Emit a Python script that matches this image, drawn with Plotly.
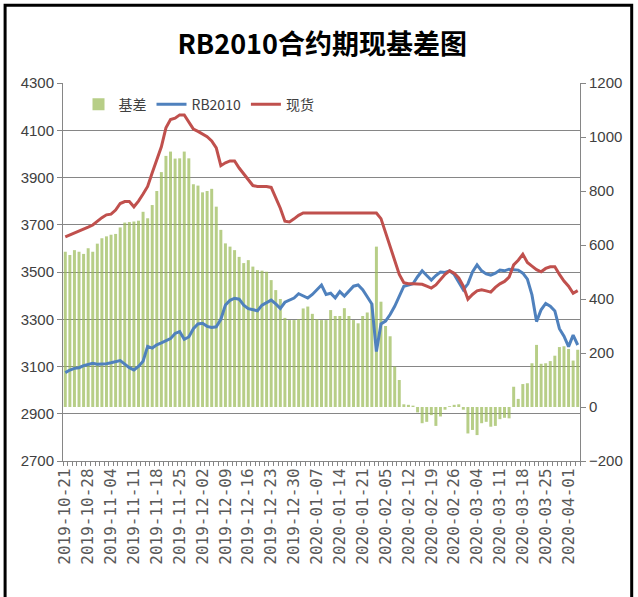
import plotly.graph_objects as go

# ---- categories: trading days (month -> days) ----
trading_days = {
    "2019-10": [21, 22, 23, 24, 25, 28, 29, 30, 31],
    "2019-11": [1, 4, 5, 6, 7, 8, 11, 12, 13, 14, 15, 18, 19, 20, 21, 22, 25, 26, 27, 28, 29],
    "2019-12": [2, 3, 4, 5, 6, 9, 10, 11, 12, 13, 16, 17, 18, 19, 20, 23, 24, 25, 26, 27, 30, 31],
    "2020-01": [2, 3, 6, 7, 8, 9, 10, 13, 14, 15, 16, 17, 20, 21, 22, 23],
    "2020-02": [3, 4, 5, 6, 7, 10, 11, 12, 13, 14, 17, 18, 19, 20, 21, 24, 25, 26, 27, 28],
    "2020-03": [2, 3, 4, 5, 6, 9, 10, 11, 12, 13, 16, 17, 18, 19, 20, 23, 24, 25, 26, 27, 30, 31],
    "2020-04": [1, 2, 3],
}
dates = [f"{m}-{d:02d}" for m, days in trading_days.items() for d in days]

# ---- series ----
spot = [  # 现货
    3649, 3657, 3666, 3671, 3680, 3690, 3699, 3715, 3730, 3742,
    3745, 3762, 3790, 3798, 3798, 3776, 3800, 3830, 3862, 3920,
    3975, 4030, 4110, 4145, 4151, 4165, 4165, 4135, 4105, 4095,
    4085, 4073, 4055, 4025, 3950, 3962, 3970, 3970, 3940, 3915,
    3890, 3866, 3862, 3862, 3862, 3858, 3815, 3770, 3715, 3712,
    3725, 3740, 3750, 3750, 3750, 3750, 3750, 3750, 3750, 3750,
    3750, 3750, 3750, 3750, 3750, 3750, 3750, 3750, 3750, 3726,
    3666, 3606, 3546, 3490, 3455, 3450, 3450, 3450, 3448, 3440,
    3432, 3445, 3470, 3490, 3505, 3495, 3475, 3440, 3385, 3405,
    3420, 3425, 3420, 3415, 3435, 3450, 3460, 3478, 3530, 3550,
    3575, 3540, 3525, 3510, 3501, 3515, 3522, 3522, 3490, 3462,
    3440, 3410, 3421,
]
futures = [  # RB2010
    3074, 3085, 3092, 3095, 3104, 3108, 3114, 3110, 3110, 3112,
    3116, 3120, 3125, 3110, 3095, 3085, 3100, 3122, 3185, 3178,
    3192, 3200, 3210, 3218, 3240, 3248, 3215, 3225, 3260, 3280,
    3283, 3270, 3265, 3268, 3300, 3360, 3380, 3389, 3385, 3360,
    3345, 3340, 3336, 3360, 3372, 3381, 3365, 3346, 3372, 3380,
    3390, 3408, 3400, 3390, 3405, 3425, 3445, 3405, 3410, 3390,
    3417, 3398, 3420, 3440, 3445, 3425, 3395, 3365, 3163, 3280,
    3292, 3320, 3355, 3400, 3440, 3445, 3450, 3480, 3505, 3485,
    3466, 3485, 3500, 3498, 3505, 3490, 3460, 3425, 3450, 3500,
    3530, 3505, 3492, 3487, 3495, 3508, 3505, 3512, 3510, 3508,
    3495, 3470, 3403, 3290, 3340, 3367, 3355, 3335, 3260, 3228,
    3184, 3233, 3191,
]
basis = [  # 基差
    575, 563, 581, 575, 567, 588, 575, 605, 625, 632,
    638, 641, 665, 683, 685, 687, 690, 723, 699, 748,
    800, 870, 930, 946, 920, 921, 946, 921, 825, 820,
    795, 800, 808, 742, 656, 606, 594, 581, 556, 533,
    544, 520, 507, 505, 501, 470, 433, 400, 330, 322,
    322, 325, 365, 372, 345, 325, 322, 322, 359, 337,
    337, 366, 337, 322, 310, 337, 350, 384, 594, 390,
    300, 262, 150, 100, 10, 8, 5, -20, -60, -55,
    -30, -70, -35, -10, 3, 8, 10, -10, -98, -85,
    -104, -60, -55, -73, -70, -45, -40, -42, 75, 30,
    85, 88, 162, 230, 160, 162, 170, 190, 222, 225,
    215, 172, 212,
]

left_ticks = [2700, 2900, 3100, 3300, 3500, 3700, 3900, 4100, 4300]
right_ticks = [-200, 0, 200, 400, 600, 800, 1000, 1200]
tick_labels = [d if i % 5 == 0 else "" for i, d in enumerate(dates)]

AXIS_GRAY = "#868686"

fig = go.Figure()
fig.add_trace(go.Bar(
    x=dates, y=basis, name="基差", yaxis="y",
    marker=dict(color="rgba(155,187,89,0.72)", line=dict(width=0)),
))
fig.add_trace(go.Scatter(
    x=dates, y=futures, name="RB2010", yaxis="y2", mode="lines",
    line=dict(color="#4F81BD", width=3),
))
fig.add_trace(go.Scatter(
    x=dates, y=spot, name="现货", yaxis="y2", mode="lines",
    line=dict(color="#C0504D", width=3),
))

fig.update_layout(
    width=638, height=597,
    margin=dict(l=63, r=58, t=83, b=136),
    paper_bgcolor="white", plot_bgcolor="white",
    bargap=0.35,
    font=dict(family="Liberation Sans", color="#404040", size=14),
    title=dict(
        text="RB2010合约期现基差图",
        x=0.505, xref="container", xanchor="center",
        y=1 - 45 / 597, yref="container", yanchor="middle",
        font=dict(family="Noto Sans CJK SC", size=27, color="black", weight="bold"),
    ),
    showlegend=True,
    legend=dict(
        orientation="h", x=0.03, y=0.985, xanchor="left", yanchor="top",
        bgcolor="rgba(0,0,0,0)", font=dict(family="Noto Sans CJK SC", size=14, color="#404040"),
        traceorder="normal",
    ),
    xaxis=dict(
        type="category", range=[-0.5, len(dates) - 0.5],
        tickmode="array", tickvals=dates, ticktext=tick_labels,
        tickangle=-90, tickson="boundaries",
        ticks="outside", ticklen=4, tickcolor=AXIS_GRAY,
        showline=True, linecolor=AXIS_GRAY, linewidth=1,
        showgrid=False, zeroline=False,
        tickfont=dict(family="DejaVu Sans Mono", size=16, color="#595959"),
    ),
    yaxis=dict(
        side="right", range=[-200, 1200], tickmode="array", tickvals=right_ticks,
        showgrid=False, zeroline=False,
        showline=True, linecolor=AXIS_GRAY, linewidth=1,
        ticks="outside", ticklen=5, tickcolor=AXIS_GRAY,
        tickfont=dict(family="Liberation Sans", size=15, color="#404040"),
    ),
    yaxis2=dict(
        overlaying="y", side="left", range=[2700, 4300], tickmode="array", tickvals=left_ticks,
        showgrid=True, gridcolor=AXIS_GRAY, gridwidth=1, zeroline=False,
        showline=True, linecolor=AXIS_GRAY, linewidth=1,
        ticks="outside", ticklen=5, tickcolor=AXIS_GRAY,
        tickfont=dict(family="Liberation Sans", size=15, color="#404040"),
    ),
    shapes=[dict(
        type="rect", xref="paper", yref="paper",
        x0=-0.112, x1=1.1, y0=-0.6, y1=1.206,
        line=dict(color="black", width=3), fillcolor="rgba(0,0,0,0)", layer="above",
    )],
)

fig.write_html(
    "out.html",
    config={"displayModeBar": False},
    post_script="document.body.style.margin='0';document.body.style.overflow='hidden';",
)
